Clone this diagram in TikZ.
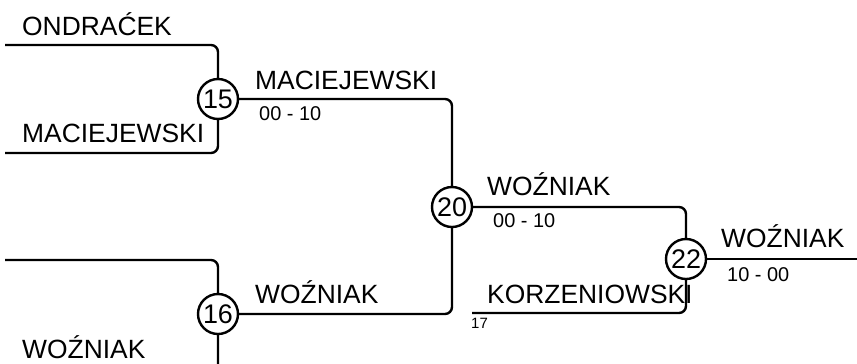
\documentclass[tikz,border=0pt]{standalone}
\usepackage{fontspec}
\setmainfont{Liberation Sans}
\begin{document}
\begin{tikzpicture}[x=1bp,y=-1bp,
  wire/.style={line width=2.4bp, rounded corners=7bp},
  game/.style={circle, draw, line width=2.4bp, minimum size=40bp, inner sep=0pt, font=\fontsize{27}{27}\selectfont},
  player/.style={anchor=base west, inner sep=0pt, font=\fontsize{26.5}{26.5}\selectfont},
  score/.style={anchor=base west, inner sep=0pt, font=\fontsize{20}{20}\selectfont},
  seed/.style={anchor=base west, inner sep=0pt, font=\fontsize{15}{15}\selectfont}]
\useasboundingbox (0,0) rectangle (857,363);
\clip (0,0) rectangle (857,363);
% games
\node[game] (g15) at (218,99) {15};
\node[game] (g16) at (218,314) {16};
\node[game] (g20) at (452,207) {20};
\node[game] (g22) at (686,259) {22};
% free ends
\coordinate (a1) at (5,45);
\coordinate (a2) at (5,153);
\coordinate (b1) at (5,260);
\coordinate (b2) at (5,380);
\coordinate (k17) at (472,313);
\coordinate (fin) at (857,259);
% connectors
\draw[wire] (a1) -| (g15.north);
\draw[wire] (g15.south) |- (a2);
\draw[wire] (b1) -| (g16.north);
\draw[wire] (g16.south) |- (b2);
\draw[wire] (g15.east) -| (g20.north);
\draw[wire] (g16.east) -| (g20.south);
\draw[wire] (g20.east) -| (g22.north);
\draw[wire] (g22.south) |- (k17);
\draw[wire] (g22.east) -- (fin);
% labels
\node[player] (t1) at (22,35) {ONDRAĆEK};
\node[player] (t2) at (22,142) {MACIEJEWSKI};
\node[player] (t3) at (255,89) {MACIEJEWSKI};
\node[score] (s1) at (259,120) {00 - 10};
\node[player] (t4) at (255,303) {WOŹNIAK};
\node[player] (t5) at (22,358) {WOŹNIAK};
\node[player] (t6) at (487,195) {WOŹNIAK};
\node[score] (s2) at (493,227) {00 - 10};
\node[player] (t7) at (487,303) {KORZENIOWSKI};
\node[seed] (n17) at (471,328) {17};
\node[player] (t8) at (721,247) {WOŹNIAK};
\node[score] (s3) at (727,281) {10 - 00};
\end{tikzpicture}
\end{document}
